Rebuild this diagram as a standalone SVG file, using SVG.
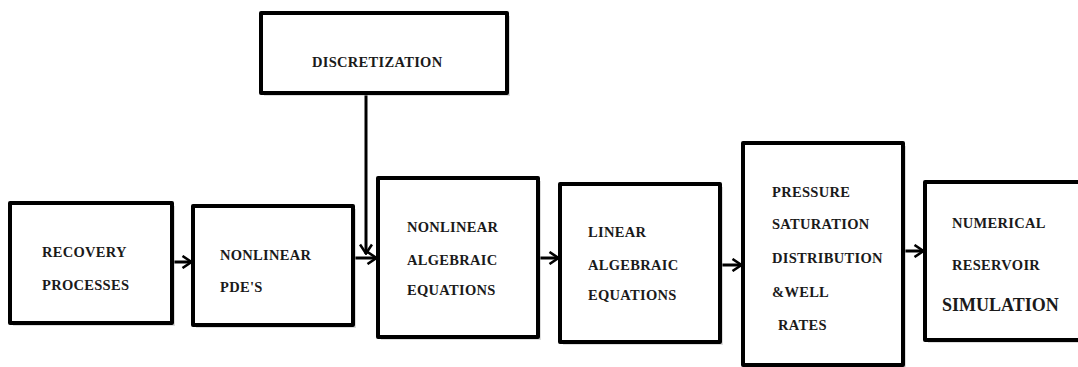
<svg xmlns="http://www.w3.org/2000/svg" width="1078" height="367" viewBox="0 0 1078 367">
<defs>
<style>
.box{fill:#fff;stroke:#000;stroke-width:4;stroke-linejoin:round}
.sh{fill:#bbb;opacity:0.5}
.t{font-family:"Liberation Serif","Times New Roman",serif;font-weight:bold;font-size:14.5px;fill:#1a1a1a;letter-spacing:0.3px}
.big{font-size:18px;letter-spacing:0}
.ln{stroke:#000;stroke-width:3;fill:none}
</style>
<marker id="ah" viewBox="0 0 12 14" refX="11" refY="7" markerWidth="12" markerHeight="14" markerUnits="userSpaceOnUse" orient="auto">
<path d="M1.5,1 L10.5,7 L1.5,13" fill="none" stroke="#000" stroke-width="2.6"/>
</marker>
</defs>
<rect width="1078" height="367" fill="#fff"/>
<g id="connectors">
<line class="ln" x1="172" y1="262" x2="192" y2="262" marker-end="url(#ah)"/>
<line class="ln" x1="353" y1="258" x2="377" y2="258" marker-end="url(#ah)"/>
<line class="ln" x1="366" y1="93" x2="366" y2="254" marker-end="url(#ah)"/>
<line class="ln" x1="538" y1="258" x2="559" y2="258" marker-end="url(#ah)"/>
<line class="ln" x1="720" y1="265" x2="742" y2="265" marker-end="url(#ah)"/>
<line class="ln" x1="903" y1="251" x2="924" y2="251" marker-end="url(#ah)"/>
</g>
<g id="discretization">
<rect class="sh" x="264" y="16" width="246" height="80"/>
<rect class="box" x="261" y="13" width="246" height="80"/>
<text class="t" x="312" y="67">DISCRETIZATION</text>
</g>
<g id="recovery">
<rect class="sh" x="13" y="206" width="162" height="120"/>
<rect class="box" x="10" y="203" width="162" height="120"/>
<text class="t" x="42" y="257">RECOVERY</text>
<text class="t" x="42" y="290">PROCESSES</text>
</g>
<g id="pdes">
<rect class="sh" x="196" y="209" width="160" height="119"/>
<rect class="box" x="193" y="206" width="160" height="119"/>
<text class="t" x="220" y="260">NONLINEAR</text>
<text class="t" x="220" y="292">PDE'S</text>
</g>
<g id="nonlinear-algebraic">
<rect class="sh" x="381" y="181" width="160" height="159"/>
<rect class="box" x="378" y="178" width="160" height="159"/>
<text class="t" x="407" y="232">NONLINEAR</text>
<text class="t" x="407" y="265">ALGEBRAIC</text>
<text class="t" x="407" y="295">EQUATIONS</text>
</g>
<g id="linear-algebraic">
<rect class="sh" x="563" y="187" width="160" height="158"/>
<rect class="box" x="560" y="184" width="160" height="158"/>
<text class="t" x="588" y="237">LINEAR</text>
<text class="t" x="588" y="270">ALGEBRAIC</text>
<text class="t" x="588" y="300">EQUATIONS</text>
</g>
<g id="pressure">
<rect class="sh" x="746" y="146" width="160" height="222"/>
<rect class="box" x="743" y="143" width="160" height="222"/>
<text class="t" x="772" y="197">PRESSURE</text>
<text class="t" x="772" y="229">SATURATION</text>
<text class="t" x="772" y="263">DISTRIBUTION</text>
<text class="t" x="772" y="297">&amp;WELL</text>
<text class="t" x="778" y="330">RATES</text>
</g>
<g id="numerical">
<rect class="sh" x="928" y="185" width="160" height="158"/>
<rect class="box" x="925" y="182" width="160" height="158"/>
<text class="t" x="952" y="228">NUMERICAL</text>
<text class="t" x="952" y="270">RESERVOIR</text>
<text class="t big" x="942" y="311">SIMULATION</text>
</g>
</svg>
